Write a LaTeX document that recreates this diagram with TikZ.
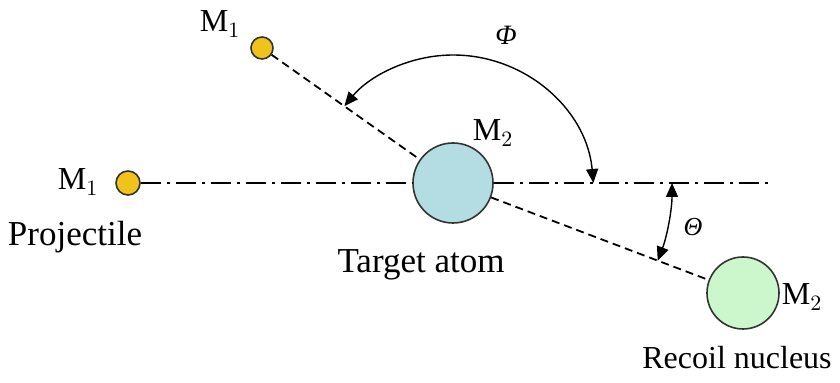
\documentclass[tikz,border=0pt]{standalone}
\usepackage{fontspec}
\setmainfont{Liberation Serif}
\usepackage{tikz}
\usetikzlibrary{arrows.meta,positioning}

\definecolor{projyellow}{HTML}{F2C21C}
\definecolor{targetblue}{HTML}{B3DDE2}
\definecolor{recoilgreen}{HTML}{CCF6CC}

\tikzset{
  particle/.style={circle,draw=black!80,line width=0.8pt,inner sep=0pt},
  lbl/.style={font=\fontsize{16}{19}\selectfont,inner sep=0pt},
  axisline/.style={line width=0.9pt,dash pattern=on 10pt off 3pt on 1.5pt off 3pt},
  pathline/.style={line width=0.9pt,dash pattern=on 4pt off 2.5pt},
  anglearrow/.style={line width=0.7pt,{Triangle[length=7pt,width=6pt]}-{Triangle[length=7pt,width=6pt]}}
}

\begin{document}
\begin{tikzpicture}[x=0.5pt,y=0.5pt]
			\useasboundingbox (0,0) rectangle (840,383);
			% particles
			\node[particle,fill=projyellow,minimum size=12pt] (proj) at (128,200){};
			\node[particle,fill=targetblue,minimum size=40pt] (target) at (453,200){};
			\node[particle,fill=projyellow,minimum size=11pt] (scat) at (262,335){};
			\node[particle,fill=recoilgreen,minimum size=36pt] (recoil) at (743,90){};
			\coordinate (axisend) at (770,200);
			% labels
			\node[lbl] (projm) at (78,201){M$_1$};
			\node[lbl,font=\fontsize{17.5}{20}\selectfont] (projtxt) at (75,146){Projectile};
			\node[lbl] (scatm) at (220,359){M$_1$};
			\node[lbl] (targetm) at (493,250){M$_2$};
			\node[lbl,font=\fontsize{17.5}{20}\selectfont] (targettxt) at (421,118){Target atom};
			\node[lbl] (recoilm) at (802,86){M$_2$};
			\node[lbl] (recoiltxt) at (737,25){Recoil nucleus};
			\node[lbl,font=\fontsize{14}{16}\selectfont\itshape] (phi) at (506,348){Φ};
			\node[lbl,font=\fontsize{13}{16}\selectfont\itshape] (theta) at (693,156){Θ};
			% beam axis and trajectories
			\draw[axisline] (proj) -- (target);
			\draw[axisline] (target) -- (axisend);
			\draw[pathline] (scat) -- (target);
			\draw[pathline] (target) -- (recoil);
			% angles
			\coordinate (phistart) at (593.4,200);
			\coordinate (thetastart) at (672,200);
			\draw[anglearrow] (phistart) arc[start angle=5.3,end angle=140.4,radius=70.5pt];
			\draw[anglearrow] (thetastart) arc[start angle=0,end angle=-20.8,radius=109.5pt];
		\end{tikzpicture}
\end{document}
